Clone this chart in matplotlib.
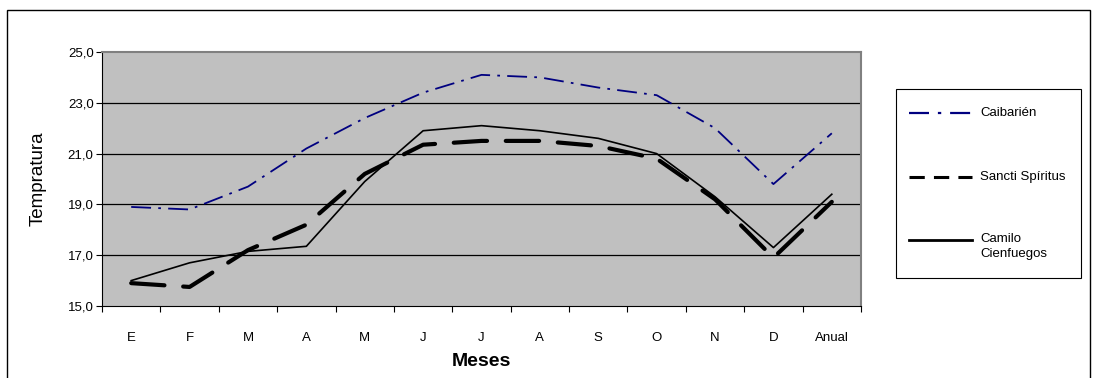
import numpy as np
import matplotlib
matplotlib.use("Agg")
import matplotlib.pyplot as plt
from matplotlib.patches import Rectangle
from matplotlib.lines import Line2D
from matplotlib.ticker import FuncFormatter, FixedLocator

plt.rcParams["font.family"] = ["Liberation Sans", "DejaVu Sans"]

meses = ["E", "F", "M", "A", "M", "J", "J", "A", "S", "O", "N", "D", "Anual"]
series_names = ["Caibarién", "Sancti Spíritus", "Camilo\nCienfuegos"]
caibarien = [18.9, 18.8, 19.7, 21.2, 22.4, 23.4, 24.1, 24.0, 23.6, 23.3, 22.0, 19.8, 21.8]
sancti_spiritus = [15.9, 15.75, 17.2, 18.2, 20.2, 21.35, 21.5, 21.5, 21.3, 20.8, 19.2, 16.9, 19.1]
camilo_cienfuegos = [16.0, 16.7, 17.15, 17.35, 19.9, 21.9, 22.1, 21.9, 21.6, 21.0, 19.3, 17.3, 19.4]

W, H = 1094, 378
fig = plt.figure(figsize=(W / 100, H / 100), dpi=100)
fig.patches.append(Rectangle((7 / W, -0.01), 1083 / W, 1 - 10 / H + 0.01,
                             transform=fig.transFigure, fill=False,
                             edgecolor="black", linewidth=1.0))

ax = fig.add_axes([102 / W, 1 - 306 / H, 759 / W, 254 / H])
ax.set_facecolor("#c0c0c0")
x = np.arange(len(meses))

styles = [
    dict(color="#000080", linewidth=1.3, dashes=(11, 4, 1.5, 4)),
    dict(color="black", linewidth=3.0, dashes=(8, 4.5), dash_capstyle="round"),
    dict(color="black", linewidth=1.2),
]
for vals, st in zip([caibarien, sancti_spiritus, camilo_cienfuegos], styles):
    ax.plot(x, vals, **st)

ax.set_xlim(-0.5, len(meses) - 0.5)
ax.set_ylim(15, 25)
ax.set_yticks([15, 17, 19, 21, 23, 25])
ax.yaxis.set_major_formatter(FuncFormatter(lambda v, p: f"{v:.1f}".replace(".", ",")))
ax.set_xticks(x)
ax.set_xticklabels(meses)
ax.xaxis.set_minor_locator(FixedLocator(np.arange(-0.5, len(meses), 1.0)))
ax.tick_params(axis="x", which="major", length=0, pad=19, labelsize=9.5)
ax.tick_params(axis="x", which="minor", length=4, direction="out", width=0.8)
ax.tick_params(axis="y", length=4, direction="out", width=0.8, labelsize=9.5, pad=2)

for yv in [17, 19, 21, 23]:
    ax.axhline(yv, color="black", linewidth=0.9, zorder=0.5)

for side in ["top", "right"]:
    ax.spines[side].set_color("#808080")
    ax.spines[side].set_linewidth(1.5)
for side in ["left", "bottom"]:
    ax.spines[side].set_color("black")
    ax.spines[side].set_linewidth(0.8)

ax.set_ylabel("Tempratura", fontsize=13.5, labelpad=15)
ax.set_xlabel("Meses", fontsize=14, fontweight="bold", labelpad=6)

# legend box drawn by hand (Excel style, handle aligned to first text line)
fig.patches.append(Rectangle((896 / W, 1 - 278 / H), 185 / W, 189 / H,
                             transform=fig.transFigure, fill=False,
                             edgecolor="black", linewidth=0.8))
leg_styles = [
    dict(color="#000080", linewidth=1.6, dashes=(9, 4, 1.5, 4)),
    dict(color="black", linewidth=2.2, dashes=(5, 3)),
    dict(color="black", linewidth=2.0),
]
for i, (name, st) in enumerate(zip(series_names, leg_styles)):
    yy = 1 - (113 + 63.5 * i) / H
    fig.add_artist(Line2D([909 / W, 972 / W], [yy, yy], transform=fig.transFigure, **st))
    if "\n" in name:
        fig.text(980 / W, yy + 7 / H, name, fontsize=9.5, va="top", ha="left",
                 linespacing=1.35)
    else:
        fig.text(980 / W, yy, name, fontsize=9.5, va="center", ha="left")

fig.savefig("out.png", dpi=100)
